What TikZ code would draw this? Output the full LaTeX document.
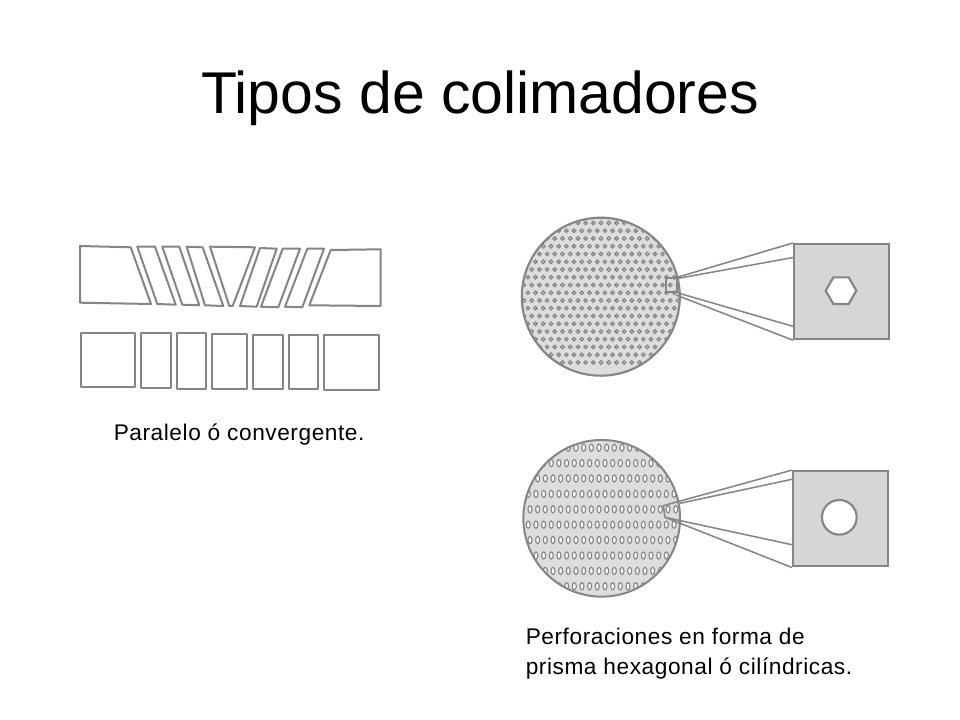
\documentclass[tikz,border=0pt]{standalone}
\usepackage{fontspec}
\setmainfont{Liberation Sans}
\newfontfamily\spacedfont[LetterSpace=2.5]{Liberation Sans}
\usetikzlibrary{positioning,shapes.geometric}
\definecolor{inkgray}{HTML}{858585}
\definecolor{screengray}{HTML}{DDDDDD}
\definecolor{blockgray}{HTML}{D6D6D6}
\tikzset{
  septum/.style={draw=inkgray,line width=1.5pt,line join=round,fill=white},
  wire/.style={draw=inkgray,line width=1.15pt},
  label/.style={inner sep=0pt,anchor=base west,font=\spacedfont\fontsize{17}{22.3}\selectfont},
  holeblock/.style={draw=inkgray,line width=1.5pt,fill=blockgray,rectangle,minimum size=71.5pt,inner sep=0pt},
  holeface/.style={draw=inkgray,line width=1.6pt,fill=white,inner sep=0pt}
}
\begin{document}
\begin{tikzpicture}[x=0.75pt,y=-0.75pt]
  \useasboundingbox[fill=white] (0,0) rectangle (960,720);
  \node[inner sep=0pt,anchor=base,font=\fontsize{44.2}{50}\selectfont] (title) at (480,114) {Tipos de colimadores};

  % converging septa
  \foreach \pts in {
    {(80,246) -- (130.7,247.3) -- (151,304) -- (80,302.7)},
    {(137.3,246.7) -- (155,246.7) -- (175.7,304.7) -- (157.3,304)},
    {(162.3,246.7) -- (179.3,246.7) -- (199.3,305.3) -- (182.3,304.7)},
    {(186.7,246.7) -- (202.7,247.3) -- (223.3,306) -- (205,305.3)},
    {(210,246.7) -- (255,247.3) -- (232.7,306) -- (229.3,306)},
    {(260,248) -- (276.7,248.7) -- (256.7,306.7) -- (240,306)},
    {(282.7,248.7) -- (300,248.7) -- (278.3,307.3) -- (261,306.7)},
    {(307.3,248.7) -- (324,248.7) -- (302.3,307.3) -- (285,306.7)},
    {(330.7,250) -- (380.7,249.3) -- (380.7,306) -- (309.3,305.3)}}
    \draw[septum] \pts -- cycle;

  % parallel septa
  \foreach \xa/\ya/\xb/\yb in {80.7/332.7/135/386.7, 141/333.3/170.7/388, 176.7/333.3/206/388.7,
    212/334/246.7/388.7, 252.7/334.7/282.7/389.3, 288.7/334.7/318.3/389.3, 324.3/335.3/379/390}
    \draw[septum] (\xa,\ya) rectangle (\xb,\yb);

  \node[label] (parallel) at (113.5,440) {Paralelo ó convergente.};

  % hexagonal holes
  \node[circle,fill=screengray,minimum size=118.5pt,inner sep=0pt] (hexscreen) at (600.8,296.7) {};
  \begin{scope}
    \clip (600.8,296.7) circle (78);
    \foreach \row in {-6,...,14} {
      \pgfmathsetmacro{\shift}{mod(\row+20,2)*3.85}
      \foreach \col in {-12,...,12}
        \draw[inkgray,line width=0.95pt,fill=white] (593.3+\col*7.7+\shift,254+\row*7.75) circle (1.7);
    }
  \end{scope}
  \node[circle,draw=inkgray,line width=1.6pt,minimum size=118.5pt,inner sep=0pt] (hexrim) at (600.8,296.7) {};
  \node[rectangle,draw=inkgray,line width=1.3pt,minimum width=8pt,minimum height=10.5pt,inner sep=0pt] (hexzoom) at (671.5,285) {};

  \node[holeblock] (hexblock) at (841.8,291.6) {};
  \node[holeface,regular polygon,regular polygon sides=6,minimum size=23pt] (hexhole) at (841,290.7) {};
  \coordinate (hexup) at (794.3,257.3);
  \coordinate (hexlow) at (794.3,326.7);
  \draw[wire] (hexblock.north west) -- (hexzoom.north east);
  \draw[wire] (hexup) -- (676.7,278.6);
  \draw[wire] (hexlow) -- (hexzoom.south east);
  \draw[wire] (hexblock.south west) -- (676,295);

  % round holes
  \node[circle,fill=screengray,minimum size=117.5pt,inner sep=0pt] (roundscreen) at (601.7,518.3) {};
  \begin{scope}
    \clip (601.7,518.3) circle (77.5);
    \foreach \row in {-4,...,5} {
      \pgfmathsetmacro{\shift}{mod(\row+20,2)*1.7}
      \foreach \col in {-12,...,12}
        \draw[inkgray,line width=0.85pt,fill=white] (599+\col*7.67-\shift,509.3+\row*15.4) ellipse (2 and 3.6);
    }
  \end{scope}
  \node[circle,draw=inkgray,line width=1.5pt,minimum size=117.5pt,inner sep=0pt] (roundrim) at (601.7,518.3) {};

  \node[holeblock] (roundblock) at (840.5,518.8) {};
  \node[holeface,circle,minimum size=26pt] (roundhole) at (839.3,517.3) {};
  \coordinate (tipup) at (663.3,505.7);
  \coordinate (tiplow) at (665,517.3);
  \coordinate (roundup) at (793.3,479);
  \coordinate (roundlow) at (793.3,545);
  \draw[wire] (roundblock.north west) -- (tipup) -- (tiplow) -- (roundblock.south west);
  \draw[wire] (roundup) -- (680,503.3);
  \draw[wire] (roundlow) -- (tiplow);

  \node[label,align=left,anchor=base west] (holes) at (525.5,674) {Perforaciones en forma de\\prisma hexagonal ó cilíndricas.};
\end{tikzpicture}
\end{document}
